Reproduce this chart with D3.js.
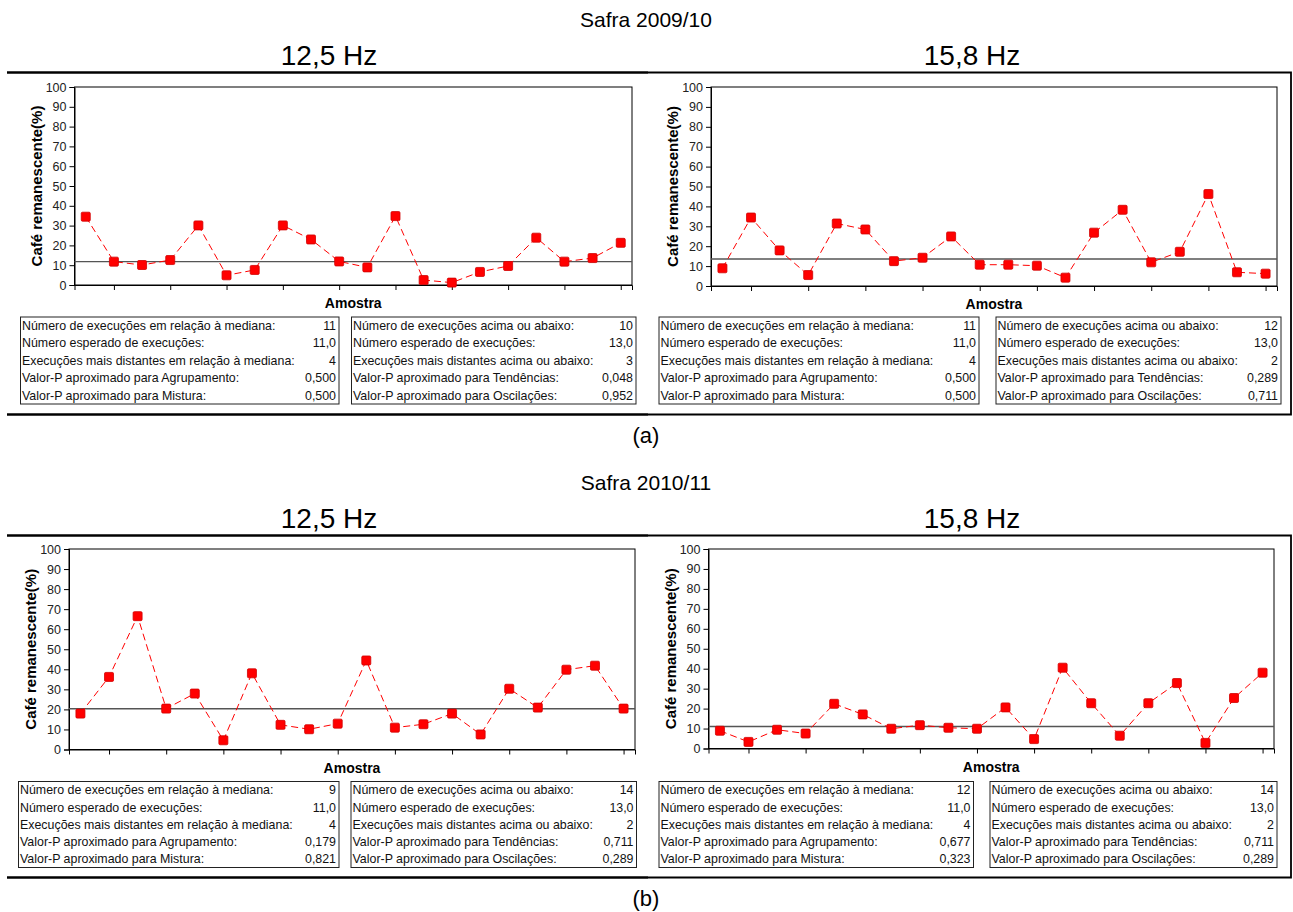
<!DOCTYPE html>
<html>
<head>
<meta charset="utf-8">
<script src="https://cdn.jsdelivr.net/npm/d3@7"></script>
<style>
  body { margin: 0; background: #fff; }
  svg { display: block; font-family: "Liberation Sans", Arial, sans-serif; }
  .axis text { font-size: 12.5px; fill: #222; }
  .axis path, .axis line { stroke: #000; }
  .tbl text { font-size: 12.4px; fill: #111; }
</style>
</head>
<body>
<svg id="chart" width="1293" height="912"></svg>
<script>
// sample number on the x axis (20 samples per run chart)
const samples = d3.range(1, 21);
const xTicks = [2, 4, 6, 8, 10, 12, 14, 16, 18, 20];
const yTicks = [0, 10, 20, 30, 40, 50, 60, 70, 80, 90, 100];

// Café remanescente (%)
const safra0910Hz125 = [34.5, 11.8, 10.1, 12.6, 30.1, 4.9, 7.6, 30.1, 23.0, 11.9,
  8.9, 34.8, 2.5, 1.2, 6.6, 9.6, 23.9, 11.8, 13.6, 21.3];
const safra0910Hz158 = [8.9, 34.4, 17.9, 5.5, 31.4, 28.4, 12.5, 14.2, 24.9, 10.7,
  10.7, 10.2, 4.2, 26.8, 38.3, 11.9, 17.2, 46.2, 6.9, 6.2];
const safra1011Hz125 = [17.9, 36.2, 66.5, 20.4, 27.9, 4.6, 38.0, 12.3, 10.1, 12.9,
  44.4, 10.9, 12.6, 17.9, 7.5, 30.3, 20.9, 39.8, 41.8, 20.4];
const safra1011Hz158 = [8.9, 3.3, 9.4, 7.5, 22.4, 17.1, 9.9, 11.7, 10.4, 9.9,
  20.6, 4.7, 40.5, 22.7, 6.4, 22.7, 32.8, 2.8, 25.3, 38.0];

// median center lines as drawn
const medians = [11.8, 13.6, 20.3, 11.0];

// run test tables
const medianLabels = [
  'Número de execuções em relação à mediana:',
  'Número esperado de execuções:',
  'Execuções mais distantes em relação à mediana:',
  'Valor-P aproximado para Agrupamento:',
  'Valor-P aproximado para Mistura:'
];
const trendLabels = [
  'Número de execuções acima ou abaixo:',
  'Número esperado de execuções:',
  'Execuções mais distantes acima ou abaixo:',
  'Valor-P aproximado para Tendências:',
  'Valor-P aproximado para Oscilações:'
];
const medianStats = [
  ['11', '11,0', '4', '0,500', '0,500'],
  ['11', '11,0', '4', '0,500', '0,500'],
  ['9', '11,0', '4', '0,179', '0,821'],
  ['12', '11,0', '4', '0,677', '0,323']
];
const trendStats = [
  ['10', '13,0', '3', '0,048', '0,952'],
  ['12', '13,0', '2', '0,289', '0,711'],
  ['14', '13,0', '2', '0,711', '0,289'],
  ['14', '13,0', '2', '0,711', '0,289']
];

const safraTitles = ['Safra 2009/10', 'Safra 2010/11'];
const freqTitles = ['12,5 Hz', '15,8 Hz'];
const partLabels = ['(a)', '(b)'];

const seriesList = [safra0910Hz125, safra0910Hz158, safra1011Hz125, safra1011Hz158];

// layout per chart: plot rect and the two table boxes
const layouts = [
  { plot: { l: 74.5, r: 632, t: 87, b: 285 }, box1: [20.5, 339], box2: [351.5, 636], boxY: [317, 404] },
  { plot: { l: 711, r: 1277, t: 87, b: 286 }, box1: [659, 979], box2: [996, 1281], boxY: [317, 404] },
  { plot: { l: 69, r: 635, t: 549, b: 749.5 }, box1: [18.5, 339], box2: [351, 636.5], boxY: [781.5, 867.5] },
  { plot: { l: 708.5, r: 1274, t: 549, b: 748.5 }, box1: [659, 973.5], box2: [990, 1277], boxY: [781.5, 867.5] }
];

const svg = d3.select('#chart');

// section headers and panel frames
[0, 463].forEach((dy, s) => {
  svg.append('text')
    .attr('x', 646).attr('y', 27 + dy)
    .attr('text-anchor', 'middle')
    .style('font-size', '21px')
    .text(safraTitles[s]);
  freqTitles.forEach((t, k) => {
    svg.append('text')
      .attr('x', k === 0 ? 329 : 972).attr('y', 65 + dy)
      .attr('text-anchor', 'middle')
      .style('font-size', '28px')
      .text(t);
  });
  // left panel: thick top and bottom rules
  svg.append('line').attr('x1', 7).attr('x2', 648).attr('y1', 72.5 + dy).attr('y2', 72.5 + dy)
    .attr('stroke', '#000').attr('stroke-width', 2.6);
  svg.append('line').attr('x1', 7).attr('x2', 648).attr('y1', 414.5 + dy).attr('y2', 414.5 + dy)
    .attr('stroke', '#000').attr('stroke-width', 2.6);
  // right panel: framed box
  svg.append('path')
    .attr('d', `M648,${72.5 + dy}H1291V${414.5 + dy}H648`)
    .attr('fill', 'none').attr('stroke', '#000').attr('stroke-width', 1.8);
  svg.append('text')
    .attr('x', 646).attr('y', 443 + dy)
    .attr('text-anchor', 'middle')
    .style('font-size', '22px')
    .text(partLabels[s]);
});

seriesList.forEach((values, i) => {
  const L = layouts[i];
  const p = L.plot;
  const x = d3.scaleLinear().domain([0.6, 20.4]).range([p.l, p.r]);
  const y = d3.scaleLinear().domain([0, 100]).range([p.b, p.t]);
  const g = svg.append('g');

  g.append('rect')
    .attr('x', p.l).attr('y', p.t)
    .attr('width', p.r - p.l).attr('height', p.b - p.t)
    .attr('fill', 'none').attr('stroke', '#000').attr('stroke-width', 1);

  g.append('g').attr('class', 'axis')
    .attr('transform', `translate(${p.l},0)`)
    .call(d3.axisLeft(y).tickValues(yTicks).tickSize(5).tickPadding(3));
  g.append('g').attr('class', 'axis')
    .attr('transform', `translate(0,${p.b})`)
    .call(d3.axisBottom(x).tickValues(xTicks).tickSize(5).tickFormat(''));

  g.append('text')
    .attr('transform', `translate(${p.l - 38},${(p.t + p.b) / 2}) rotate(-90)`)
    .attr('text-anchor', 'middle')
    .attr('dy', '0.35em')
    .style('font-size', '15px').style('font-weight', 'bold')
    .text('Café remanescente(%)');
  g.append('text')
    .attr('x', (p.l + p.r) / 2).attr('y', p.b + 23)
    .attr('text-anchor', 'middle')
    .style('font-size', '14px').style('font-weight', 'bold')
    .text('Amostra');

  // median center line
  g.append('line')
    .attr('x1', p.l).attr('x2', p.r)
    .attr('y1', y(medians[i])).attr('y2', y(medians[i]))
    .attr('stroke', '#555').attr('stroke-width', 1.4);

  const pts = samples.map((s, k) => [s, values[k]]);
  g.append('path')
    .datum(pts)
    .attr('fill', 'none')
    .attr('stroke', '#ff0000')
    .attr('stroke-width', 1)
    .attr('stroke-dasharray', '7,4')
    .attr('d', d3.line().x(d => x(d[0])).y(d => y(d[1])));
  g.selectAll('.pt').data(pts).join('rect')
    .attr('class', 'pt')
    .attr('x', d => x(d[0]) - 4.5).attr('y', d => y(d[1]) - 4.5)
    .attr('width', 9).attr('height', 9).attr('rx', 1.2)
    .attr('fill', '#ff0000').attr('stroke', '#d00000').attr('stroke-width', 0.8);

  // the two run-test boxes
  const boxes = [[L.box1, medianLabels, medianStats[i]], [L.box2, trendLabels, trendStats[i]]];
  boxes.forEach(([bx, labels, vals]) => {
    const tg = g.append('g').attr('class', 'tbl');
    const [y0, y1] = L.boxY;
    tg.append('rect')
      .attr('x', bx[0]).attr('y', y0)
      .attr('width', bx[1] - bx[0]).attr('height', y1 - y0)
      .attr('fill', 'none').attr('stroke', '#222').attr('stroke-width', 1);
    const rowH = (y1 - y0) / 5;
    labels.forEach((lab, r) => {
      const ty = y0 + rowH * (r + 0.5) + 4.3;
      tg.append('text').attr('x', bx[0] + 1.5).attr('y', ty).text(lab);
      tg.append('text').attr('x', bx[1] - 3).attr('y', ty)
        .attr('text-anchor', 'end').text(vals[r]);
    });
  });
});
</script>
</body>
</html>
